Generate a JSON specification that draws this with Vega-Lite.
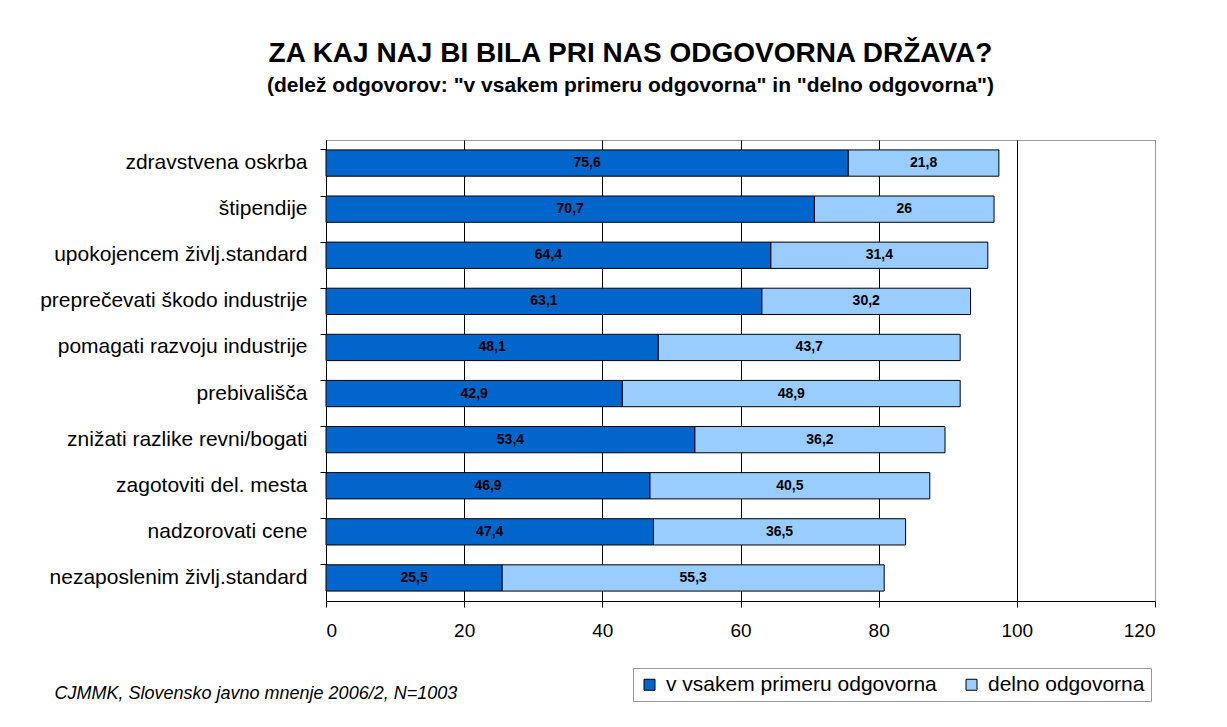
{
  "$schema": "https://vega.github.io/schema/vega-lite/v6.json",
  "width": 829,
  "height": 461,
  "autosize": {"type": "none"},
  "padding": {"left": 326, "top": 140, "right": 72, "bottom": 126},
  "background": "white",
  "title": {
    "text": "ZA KAJ NAJ BI BILA PRI NAS ODGOVORNA DRŽAVA?",
    "subtitle": "(delež odgovorov: \"v vsakem primeru odgovorna\" in \"delno odgovorna\")",
    "anchor": "middle",
    "dx": -110,
    "font": "Liberation Sans",
    "fontSize": 28,
    "fontWeight": "bold",
    "color": "black",
    "subtitleFont": "Liberation Sans",
    "subtitleFontSize": 21,
    "subtitleFontWeight": "bold",
    "subtitleColor": "black",
    "subtitlePadding": 7,
    "offset": 44
  },
  "data": {
    "values": [
      {"item": "zdravstvena oskrba", "series": "v vsakem primeru odgovorna", "value": 75.6},
      {"item": "zdravstvena oskrba", "series": "delno odgovorna", "value": 21.8},
      {"item": "štipendije", "series": "v vsakem primeru odgovorna", "value": 70.7},
      {"item": "štipendije", "series": "delno odgovorna", "value": 26},
      {"item": "upokojencem življ.standard", "series": "v vsakem primeru odgovorna", "value": 64.4},
      {"item": "upokojencem življ.standard", "series": "delno odgovorna", "value": 31.4},
      {"item": "preprečevati škodo industrije", "series": "v vsakem primeru odgovorna", "value": 63.1},
      {"item": "preprečevati škodo industrije", "series": "delno odgovorna", "value": 30.2},
      {"item": "pomagati razvoju industrije", "series": "v vsakem primeru odgovorna", "value": 48.1},
      {"item": "pomagati razvoju industrije", "series": "delno odgovorna", "value": 43.7},
      {"item": "prebivališča\u00a0", "series": "v vsakem primeru odgovorna", "value": 42.9},
      {"item": "prebivališča\u00a0", "series": "delno odgovorna", "value": 48.9},
      {"item": "znižati razlike revni/bogati", "series": "v vsakem primeru odgovorna", "value": 53.4},
      {"item": "znižati razlike revni/bogati", "series": "delno odgovorna", "value": 36.2},
      {"item": "zagotoviti del. mesta\u00a0\u00a0\u00a0", "series": "v vsakem primeru odgovorna", "value": 46.9},
      {"item": "zagotoviti del. mesta\u00a0\u00a0\u00a0", "series": "delno odgovorna", "value": 40.5},
      {"item": "nadzorovati cene\u00a0\u00a0", "series": "v vsakem primeru odgovorna", "value": 47.4},
      {"item": "nadzorovati cene\u00a0\u00a0", "series": "delno odgovorna", "value": 36.5},
      {"item": "nezaposlenim življ.standard", "series": "v vsakem primeru odgovorna", "value": 25.5},
      {"item": "nezaposlenim življ.standard", "series": "delno odgovorna", "value": 55.3}
    ]
  },
  "transform": [
    {"stack": "value", "groupby": ["item"], "sort": [{"field": "series", "order": "descending"}], "as": ["v0", "v1"]},
    {"calculate": "(datum.v0 + datum.v1) / 2", "as": "mid"}
  ],
  "encoding": {
    "y": {
      "field": "item",
      "type": "nominal",
      "sort": null,
      "scale": {"paddingInner": 0.43, "paddingOuter": 0.215},
      "axis": {
        "title": null,
        "labelFont": "Liberation Sans",
        "labelFontSize": 21,
        "labelColor": "black",
        "labelPadding": 13,
        "labelLimit": 400,
        "tickSize": 6,
        "tickColor": "black",
        "bandPosition": 0,
        "domainColor": "black",
        "grid": false
      }
    }
  },
  "layer": [
    {
      "mark": {"type": "bar", "stroke": "black", "strokeWidth": 1},
      "encoding": {
        "x": {
          "field": "v0",
          "type": "quantitative",
          "scale": {"domain": [0, 120], "nice": false},
          "axis": {
            "values": [0, 20, 40, 60, 80, 100, 120],
            "grid": true,
            "gridColor": {"condition": {"test": "datum.value === 120", "value": "#999999"}, "value": "black"},
            "gridOpacity": 1,
            "domainColor": "black",
            "tickColor": "black",
            "tickSize": 6,
            "labelFont": "Liberation Sans",
            "labelFontSize": 19,
            "labelColor": "black",
            "labelPadding": 14,
            "title": "CJMMK, Slovensko javno mnenje 2006/2, N=1003",
            "titleX": -272,
            "titleY": 92,
            "titleAlign": "left",
            "titleBaseline": "middle",
            "titleFont": "Liberation Sans",
            "titleFontSize": 18,
            "titleFontStyle": "italic",
            "titleFontWeight": "normal",
            "titleColor": "black"
          }
        },
        "x2": {"field": "v1"},
        "color": {
          "field": "series",
          "type": "nominal",
          "scale": {"domain": ["v vsakem primeru odgovorna", "delno odgovorna"], "range": ["#0066CC", "#99CCFF"]},
          "legend": {
            "orient": "none",
            "legendX": 307,
            "legendY": 528,
            "direction": "horizontal",
            "title": null,
            "symbolType": "square",
            "symbolSize": 121,
            "symbolStrokeColor": "black",
            "symbolStrokeWidth": 1,
            "symbolOpacity": 1,
            "labelFont": "Liberation Sans",
            "labelFontSize": 21,
            "labelColor": "black",
            "labelLimit": 400,
            "labelOffset": 6,
            "columnPadding": 24,
            "strokeColor": "#999999",
            "padding": 6
          }
        }
      }
    },
    {
      "mark": {"type": "text", "font": "Liberation Sans", "fontSize": 14, "fontWeight": "bold", "color": "black", "align": "center", "baseline": "middle"},
      "encoding": {
        "x": {"field": "mid", "type": "quantitative"},
        "text": {"field": "value", "type": "quantitative", "format": ".1~f"}
      }
    }
  ],
  "config": {
    "locale": {"number": {"decimal": ",", "thousands": ".", "grouping": [3], "currency": ["", " €"]}},
    "view": {"stroke": "#999999", "strokeWidth": 1}
  }
}
